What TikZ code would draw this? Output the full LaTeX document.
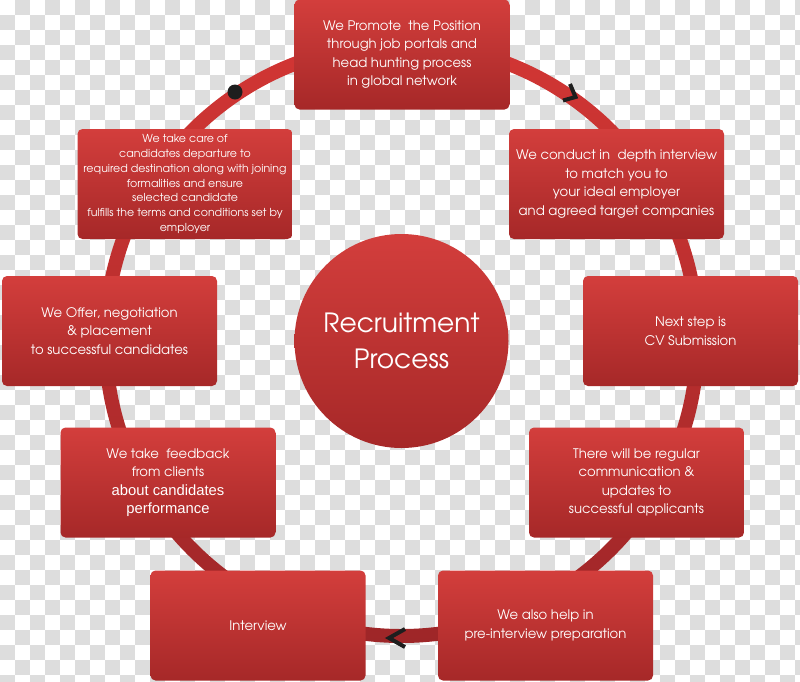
\documentclass[tikz,border=0pt]{standalone}
\usepackage{fontspec}
\setmainfont{TeX Gyre Adventor}
\newfontfamily\arialfont{Liberation Sans}
\definecolor{boxtop}{RGB}{211,62,60}
\definecolor{boxbot}{RGB}{166,40,40}
\definecolor{ringtop}{RGB}{210,54,52}
\definecolor{ringbot}{RGB}{158,38,40}
\definecolor{checkgray}{RGB}{221,221,221}
\definecolor{markcol}{RGB}{30,30,30}
\tikzset{
  stepbox/.style={rectangle, rounded corners=5pt, minimum width=215pt, minimum height=110pt,
    top color=boxtop, bottom color=boxbot, text=white, align=center, inner sep=0pt,
    font=\fontsize{13.2}{18.5}\selectfont},
  smallbox/.style={stepbox, font=\fontsize{11}{14.8}\selectfont},
  hubcircle/.style={circle, minimum size=214pt, inner sep=0pt, top color=boxtop, bottom color=boxbot,
    text=white, align=center, font=\fontsize{26.5}{36}\selectfont},
  chev/.style={draw=markcol, line width=4pt, miter limit=4},
}
\begin{document}
\begin{tikzpicture}[x=1pt,y=-1pt]
\useasboundingbox (0,0) rectangle (800,681);
\fill[white] (0,0) rectangle (800,681);
\foreach \i in {0,...,53}{
  \pgfmathtruncatemacro\s{mod(\i+1,2)}
  \pgfmathtruncatemacro\t{\s+2}
  \foreach \j in {\s,\t,...,45}{
    \fill[checkgray] (\i*15,\j*15) rectangle ++(15,15);
  }
}
\coordinate (ringc) at (401.5,340);
\shade[top color=ringtop, bottom color=ringbot, even odd rule]
  (ringc) circle (303pt) (ringc) circle (289pt);

\node[hubcircle] (hub) at (401.5,341) {Recruitment\\Process};

\node[stepbox] (promote) at (402,54.5) {We Promote\ \ the Position\\through job portals and\\head hunting process\\in global network};
\node[stepbox] (interviewdepth) at (616.5,184) {We conduct in\ \ depth interview\\to match you to\\your ideal employer\\and agreed target companies};
\node[stepbox] (cv) at (690.5,331) {Next step is\\CV Submission};
\node[stepbox] (comm) at (636.5,482.5) {There will be regular\\communication \&\\updates to\\successful applicants};
\node[stepbox] (prep) at (545.5,625.5) {We also help in\\pre-interview preparation};
\node[stepbox] (interview) at (258,625.5) {Interview};
\node[stepbox] (feedback) at (168,482.5) {We take\ \ feedback\\from clients\\{\arialfont\fontsize{14.8}{18.5}\selectfont about candidates}\\{\arialfont\fontsize{14.8}{18.5}\selectfont performance}};
\node[stepbox] (offer) at (109.5,331) {We Offer, negotiation\\\& placement\\to successful candidates};
\node[smallbox] (departure) at (185,184) {We take care of\\candidates departure to\\required destination along with joining\\formalities and ensure\\selected candidate\\fulfills the terms and conditions set by\\employer};

\fill[markcol] (235,92) circle (7.5pt);
\draw[chev] (570,84) -- (575.5,97) -- (563,100.5);
\draw[chev] (405,629) -- (389,638) -- (405,647);
\end{tikzpicture}
\end{document}
